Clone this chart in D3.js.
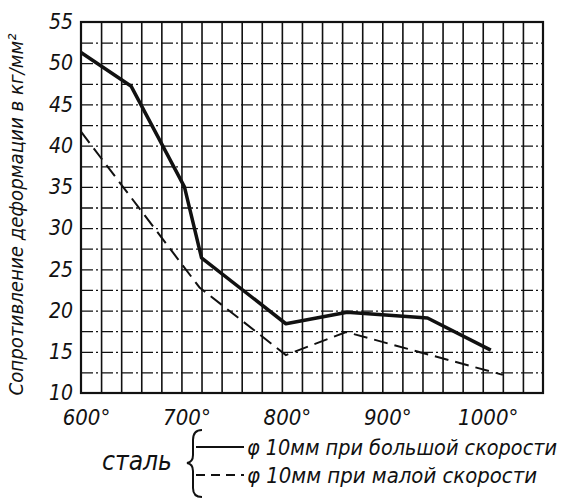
<!DOCTYPE html>
<html>
<head>
<meta charset="utf-8">
<script src="https://cdn.jsdelivr.net/npm/d3@7"></script>
<style>
  body { margin: 0; background: #fff; }
  svg text { font-family: "DejaVu Sans Condensed", "DejaVu Sans", sans-serif; font-style: oblique; fill: #111; }
</style>
</head>
<body>
<div id="chart"></div>
<script>
// data
const fastTemps = [600, 650, 703, 720, 804, 865, 945, 1008];
const fastValues = [51.3, 47.2, 35.0, 26.4, 18.4, 19.8, 19.1, 15.2];
const slowTemps = [600, 718, 804, 864, 1020];
const slowValues = [41.7, 22.8, 14.6, 17.4, 12.2];
const yTicks = [10, 15, 20, 25, 30, 35, 40, 45, 50, 55];
const xTicks = [600, 700, 800, 900, 1000];
const yTitle = 'Сопротивление деформации в кг/мм²';
const legendLabels = ['φ 10мм при большой скорости', 'φ 10мм при малой скорости'];

// layout
const W = 567, H = 500;
const plotL = 81, plotR = 543, plotT = 22, plotB = 393;

const svg = d3.select('#chart').append('svg')
  .attr('width', W)
  .attr('height', H);

const x = d3.scaleLinear().domain([600, 1060]).range([plotL, plotR]);
const y = d3.scaleLinear().domain([10, 55]).range([plotB, plotT]);

// grid: vertical every 20 deg solid, horizontal every 2.5 dashed
const vGrid = d3.range(620, 1060, 20);
const hGrid = d3.range(12.5, 55, 2.5);

svg.append('g')
  .attr('transform', `translate(0,${plotB})`)
  .call(d3.axisBottom(x).tickValues(vGrid).tickSize(-(plotB - plotT)).tickFormat(''))
  .call(g => g.select('.domain').remove())
  .selectAll('line')
  .attr('stroke', '#111')
  .attr('stroke-width', 1.6);

svg.append('g')
  .attr('transform', `translate(${plotL},0)`)
  .call(d3.axisLeft(y).tickValues(hGrid).tickSize(-(plotR - plotL)).tickFormat(''))
  .call(g => g.select('.domain').remove())
  .selectAll('line')
  .attr('stroke', '#111')
  .attr('stroke-width', 1.3)
  .attr('stroke-dasharray', '12,3,2,3');

// frame
svg.append('rect')
  .attr('x', plotL).attr('y', plotT)
  .attr('width', plotR - plotL).attr('height', plotB - plotT)
  .attr('fill', 'none')
  .attr('stroke', '#111')
  .attr('stroke-width', 2.2);

// tick labels
svg.append('g')
  .attr('transform', `translate(${plotL},0)`)
  .call(d3.axisLeft(y).tickValues(yTicks).tickSize(0).tickPadding(8))
  .call(g => g.select('.domain').remove())
  .selectAll('text')
  .attr('font-size', 21)
  .style('font-style', 'oblique')
  .style('font-family', '"DejaVu Sans Condensed", sans-serif');

svg.append('g')
  .attr('transform', `translate(0,${plotB})`)
  .call(d3.axisBottom(x).tickValues(xTicks).tickSize(0).tickPadding(16).tickFormat(d => d + '°'))
  .call(g => g.select('.domain').remove())
  .selectAll('text')
  .attr('font-size', 22)
  .attr('dx', 5)
  .style('font-style', 'oblique')
  .style('font-family', '"DejaVu Sans Condensed", sans-serif');

// y title
svg.append('text')
  .attr('transform', `translate(23,${(32 + 397) / 2}) rotate(-90)`)
  .attr('text-anchor', 'middle')
  .attr('font-size', 20)
  .attr('textLength', 362)
  .attr('lengthAdjust', 'spacingAndGlyphs')
  .text(yTitle);

// series
const line = d3.line().x(d => x(d[0])).y(d => y(d[1]));

svg.append('path')
  .datum(d3.zip(slowTemps, slowValues))
  .attr('d', line)
  .attr('fill', 'none')
  .attr('stroke', '#111')
  .attr('stroke-width', 2)
  .attr('stroke-dasharray', '14,7');

svg.append('path')
  .datum(d3.zip(fastTemps, fastValues))
  .attr('d', line)
  .attr('fill', 'none')
  .attr('stroke', '#111')
  .attr('stroke-width', 3.5)
  .attr('stroke-linejoin', 'round');

// legend
const leg = svg.append('g');
leg.append('text')
  .attr('x', 102).attr('y', 470)
  .attr('font-size', 26)
  .attr('textLength', 70)
  .attr('lengthAdjust', 'spacingAndGlyphs')
  .text('сталь');

leg.append('path')
  .attr('d', 'M202,430 Q193,430 193,440 L193,455 Q193,462 187,463 Q193,464 193,471 L193,488 Q193,497 202,497')
  .attr('fill', 'none')
  .attr('stroke', '#111')
  .attr('stroke-width', 2);

const legY = [447, 475];
leg.append('line')
  .attr('x1', 196).attr('x2', 244).attr('y1', legY[0]).attr('y2', legY[0])
  .attr('stroke', '#111').attr('stroke-width', 2);
leg.append('line')
  .attr('x1', 196).attr('x2', 244).attr('y1', legY[1]).attr('y2', legY[1])
  .attr('stroke', '#111').attr('stroke-width', 2)
  .attr('stroke-dasharray', '9,6');

leg.selectAll('.lab')
  .data(legendLabels)
  .join('text')
  .attr('class', 'lab')
  .attr('x', 247)
  .attr('y', (d, i) => legY[i] + 8)
  .attr('font-size', 21)
  .attr('textLength', (d, i) => i === 0 ? 310 : 290)
  .attr('lengthAdjust', 'spacingAndGlyphs')
  .text(d => d);
</script>
</body>
</html>
